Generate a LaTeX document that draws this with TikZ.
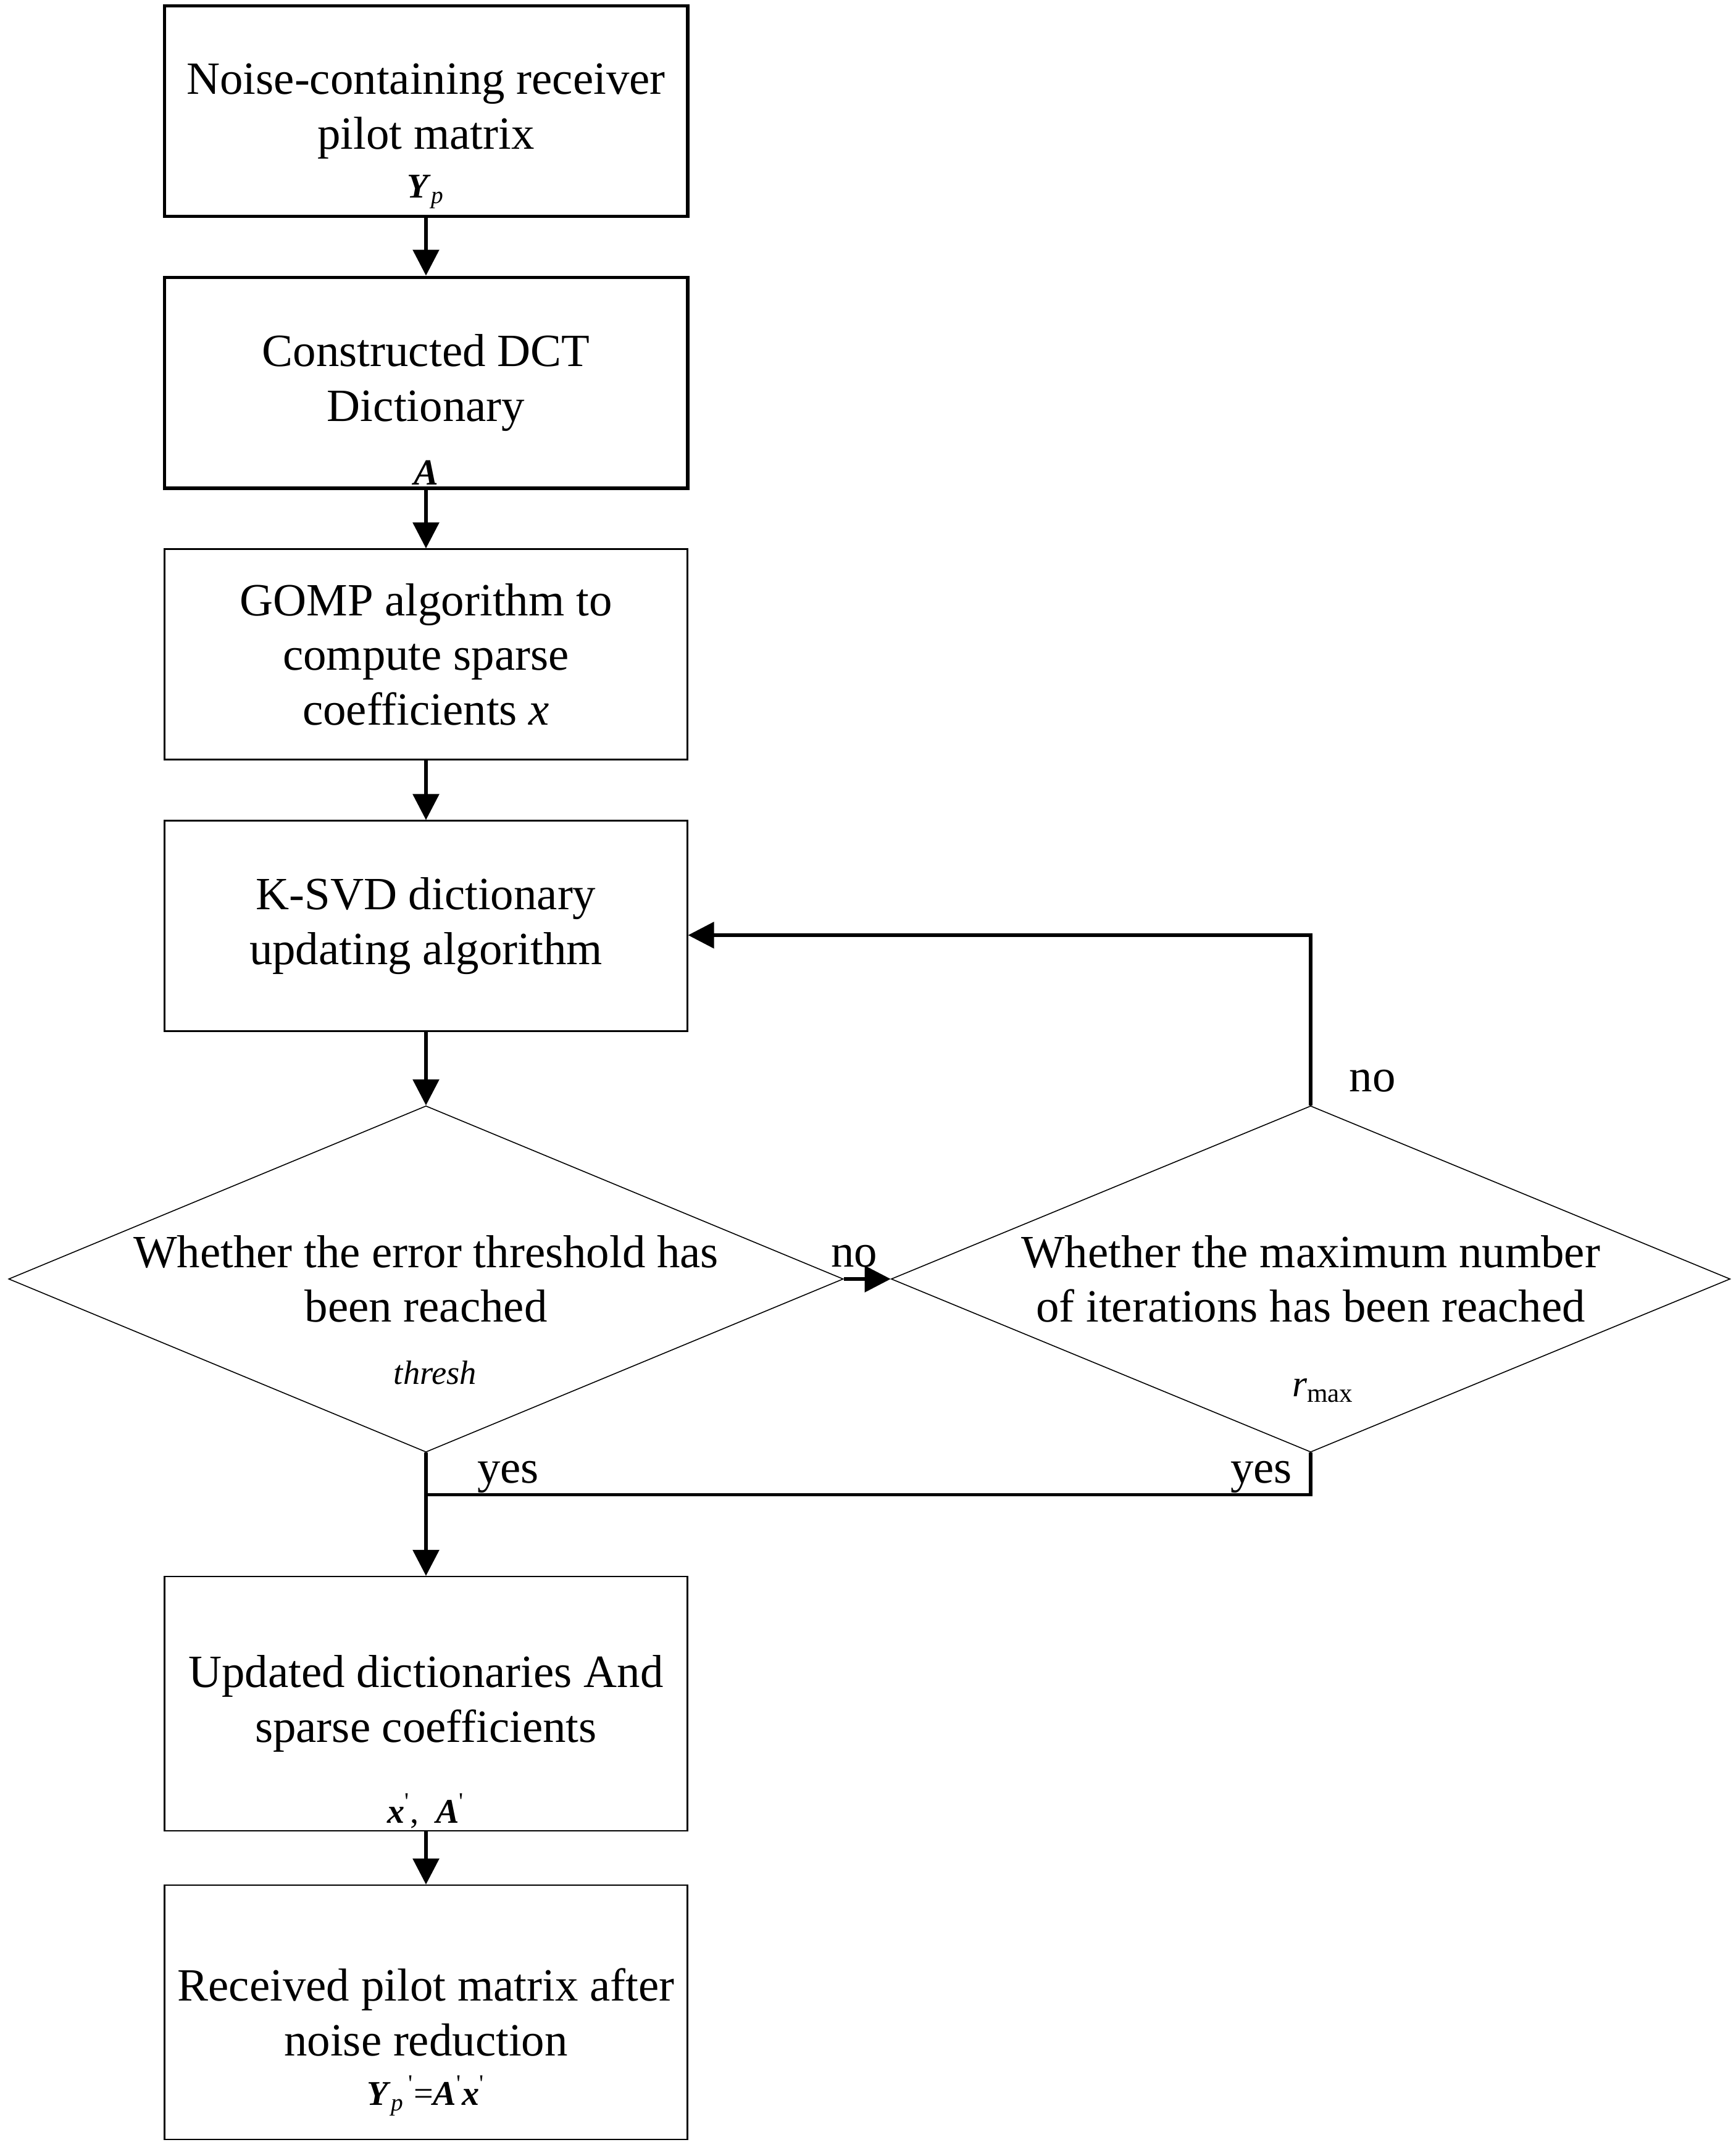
\documentclass[tikz,border=0pt]{standalone}
\usepackage{fontspec}
\setmainfont{Liberation Serif}
\usetikzlibrary{arrows.meta,calc,shapes.geometric}

\newcommand{\bsym}[1]{\textbf{\textit{#1}}}
\newcommand{\prm}{\textsuperscript{\textquotesingle}}

\tikzset{
  procbox/.style={draw, line width=0.6pt, minimum width=8.47cm, minimum height=3.41cm, align=center, inner sep=0pt},
  keybox/.style={procbox, line width=1.7pt},
  decision/.style={draw, diamond, line width=0.45pt, minimum width=13.52cm, minimum height=5.61cm, inner sep=0pt},
  conn/.style={line width=1.6pt, -{Triangle[length=0.42cm,width=0.42cm]}},
  symlbl/.style={font=\fontsize{16}{18}\selectfont, inner sep=0pt, anchor=base},
  branch/.style={inner sep=0pt, anchor=base},
}

\begin{document}
\begin{tikzpicture}[font=\fontsize{21.3}{25.2}\selectfont]
    \useasboundingbox (0,0) rectangle (28.11,-34.75);

    % 流程方框
    \node[keybox] (noisy) at (6.9,-1.8) {Noise-containing receiver\\pilot matrix};
    \node[keybox] (dct) at (6.9,-6.2) {Constructed DCT\\Dictionary};
    \node[procbox] (gomp) at (6.9,-10.6) {GOMP algorithm to\\compute sparse\\coefficients \textit{x}};
    \node[procbox] (ksvd) at (6.9,-15.0) {K-SVD dictionary\\updating algorithm};
    \node[procbox, minimum height=4.12cm] (upd) at (6.9,-27.6) {Updated dictionaries And\\sparse coefficients};
    \node[procbox, minimum height=4.12cm] (rec) at (6.9,-32.6) {Received pilot matrix after\\noise reduction};

    % 判断菱形
    \node[decision] (err) at (6.9,-20.72) {};
    \node[decision, minimum width=13.59cm] (iter) at (21.23,-20.72) {};
    \node[align=center] (errtxt) at (err.center) {Whether the error threshold has\\been reached};
    \node[align=center] (itertxt) at (iter.center) {Whether the maximum number\\of iterations has been reached};

    % 符号标注
    \node[symlbl] (ypsym) at ([yshift=0.33cm]noisy.south) {\bsym{Y}\textsubscript{\textit{p}}};
    \node[symlbl, font=\fontsize{17}{19}\selectfont] (asym) at ([yshift=0.08cm]dct.south) {\bsym{A}};
    \node[symlbl, font=\fontsize{15.5}{17}\selectfont] (thr) at ([xshift=0.15cm,yshift=-1.7cm]err.center) {\textit{thresh}};
    \node[symlbl, font=\fontsize{17.5}{19}\selectfont] (rmax) at ([xshift=0.2cm,yshift=-1.9cm]iter.center) {\textit{r}\textsubscript{max}};
    \node[symlbl] (xasym) at ([yshift=0.14cm]upd.south) {\bsym{x}\prm,\ \ \bsym{A}\prm};
    \node[symlbl] (ressym) at ([yshift=0.57cm]rec.south) {\bsym{Y}\textsubscript{\textit{p}}\textsuperscript{\,\textquotesingle}=\bsym{A}\prm\bsym{x}\prm};

    % 分支文字
    \node[branch] (noright) at ([xshift=0.17cm,yshift=0.2cm]err.east) {no};
    \node[branch] (notop) at ([xshift=1.0cm,yshift=0.22cm]iter.north) {no};
    \node[branch] (yesleft) at ([xshift=1.33cm,yshift=-0.49cm]err.south) {yes};
    \node[branch] (yesright) at ([xshift=-0.8cm,yshift=-0.49cm]iter.south) {yes};

    % 连线
    \coordinate (back) at ([yshift=-0.15cm]ksvd.east);
    \coordinate (merge) at ([yshift=-0.68cm]err.south);
    \draw[conn] (noisy) -- (dct);
    \draw[conn] (dct) -- (gomp);
    \draw[conn] (gomp) -- (ksvd);
    \draw[conn] (ksvd) -- (err);
    \draw[conn] (err) -- (iter);
    \draw[conn] (iter.north) |- (back);
    \draw[conn] (err.south) -- (upd.north);
    \draw[line width=1.6pt] (iter.south) |- (merge);
    \draw[conn] (upd) -- (rec);
\end{tikzpicture}
\end{document}
